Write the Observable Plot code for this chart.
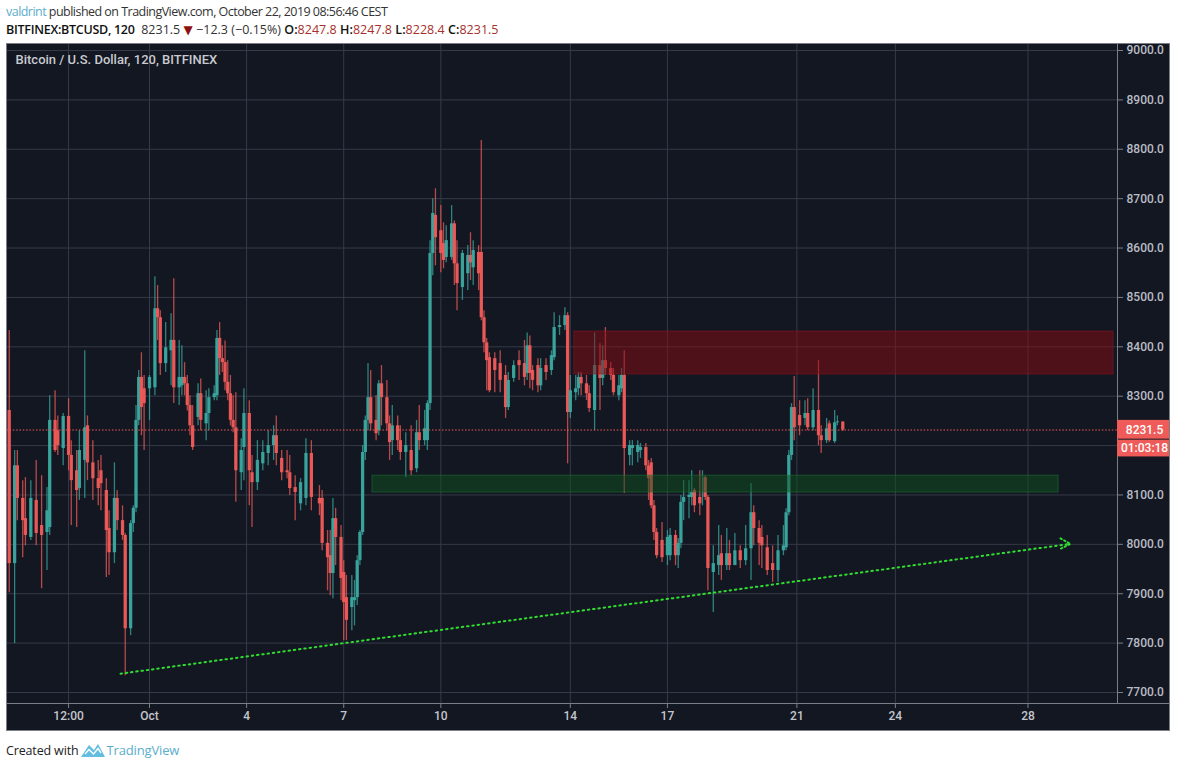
<!DOCTYPE html>
<html>
<head>
<meta charset="utf-8">
<script src="https://cdn.jsdelivr.net/npm/d3@7"></script>
<script src="https://cdn.jsdelivr.net/npm/@observablehq/plot@0.6"></script>
<style>
html,body{margin:0;padding:0;background:#fff;width:1177px;height:768px;overflow:hidden;font-family:"Open Sans",sans-serif}
#head{height:43px;box-sizing:border-box;padding:3px 0 0 6px;font-size:12.5px;line-height:18px;color:#333;white-space:nowrap}
#head .l1{letter-spacing:-.53px;height:18px;overflow:hidden}
#head .l2{letter-spacing:.02px;height:18px;overflow:hidden}
#head b{color:#111;font-weight:600}
#head .name{letter-spacing:-.28px}
#head .u{color:#5aaecb}
#head .v{color:#a8302c}
#head .t{color:#8f1010;font-family:"DejaVu Sans",sans-serif;font-size:12px;line-height:12px;letter-spacing:0}
#chart{margin-left:6px;height:688px;width:1164px}
#chart svg{display:block;outline:1px solid #7b7e87;outline-offset:-1px}
#foot{position:absolute;left:6px;top:742px;font-size:12.5px;line-height:17px;color:#222;letter-spacing:-.15px;white-space:nowrap;display:flex;align-items:center}
#foot svg{margin:0 1px 0 3px}
#foot span{color:#5aaecb;font-size:13px}
</style>
</head>
<body>
<div id="head"><div class="l1"><span class="u">valdrint</span> published on TradingView.com, October 22, 2019 08:56:46 CEST</div>
<div class="l2"><b class="name">BITFINEX:BTCUSD, 120</b>&nbsp; 8231.5 <span class="t">▼</span> −12.3 (−0.15%) <b>O:</b><span class="v">8247.8</span> <b>H:</b><span class="v">8247.8</span> <b>L:</b><span class="v">8228.4</span> <b>C:</b><span class="v">8231.5</span></div></div>
<div id="chart"></div>
<div id="foot">Created with <svg width="24" height="15" viewBox="0 0 24 15"><path d="M0 14 L8 2 L13 7 L17 1 L24 14 Z" fill="#62bde0"/><path d="M4 11 L8 6.5 L12.5 11 L17 5.5 L20 10" fill="none" stroke="#fff" stroke-width="1.4"/></svg><span>TradingView</span></div>
<script>
// 2-hour bar number counted from 1 Oct 2019 00:00 UTC
const barSlot = [
-52,-50,-49,-47,-46,-44,-42,-40,-38,-37,
-35,-34,-32,-30,-29,-27,-26,-24,-23,-21,
-19,-18,-16,-15,-13,-12,-10,-9,-7,-6,
-5,-4,-3,-2,0,2,3,4,6,8,
9,11,12,13,14,15,16,18,19,21,
22,24,25,26,27,28,29,30,31,32,
34,35,37,38,40,42,44,46,47,49,
51,52,54,56,58,60,63,64,66,67,
68,69,71,72,73,75,76,77,78,79,
80,81,82,84,85,86,88,89,90,92,
93,95,97,99,100,102,103,104,105,106,
108,109,110,112,113,114,116,118,119,120,
122,123,124,125,126,128,130,132,133,135,
137,139,140,141,142,144,145,147,149,150,
152,154,155,156,158,159,160,162,163,165,
167,168,169,171,172,174,175,176,178,179,
181,182,184,185,186,187,188,190,192,193,
195,196,197,198,200,201,202,204,205,206,
207,209,211,212,214,215,217,219,221,223,
224,226,227,229,231,233,235,236,237,238,
239,241,243,244,246,248,249,251,252,254,
255,257];
const barOpen = [
8271,7961,8159,8093,8052,8014,8089,8038,8024,8034,
8251,8230,8194,8259,8180,8149,8113,8170,8240,8165,
8133,8149,8109,8032,7983,8093,8048,8018,7829,8042,
8073,8251,8338,8315,8315,8317,8477,8459,8366,8392,
8413,8317,8321,8338,8325,8281,8240,8257,8305,8244,
8265,8297,8301,8417,8376,8368,8328,8305,8251,8236,
8145,8196,8265,8145,8125,8163,8184,8200,8220,8174,
8149,8145,8115,8082,8093,8184,8093,8093,8002,7977,
7941,8052,8014,7943,7892,7872,7886,7892,7967,8024,
8186,8251,8297,8251,8230,8325,8297,8244,8210,8240,
8210,8186,8190,8153,8226,8210,8210,8285,8589,8666,
8635,8609,8581,8581,8649,8568,8520,8548,8585,8560,
8591,8591,8459,8408,8378,8376,8366,8342,8277,8336,
8372,8366,8346,8402,8352,8362,8321,8362,8352,8378,
8439,8443,8463,8267,8307,8315,8338,8325,8305,8271,
8362,8336,8372,8356,8342,8301,8315,8342,8180,8194,
8186,8190,8196,8159,8165,8078,8024,8008,7977,7977,
8018,7977,8002,8085,8095,8095,8109,8095,8135,8135,
8095,7943,7957,7981,7957,7981,7957,7987,7967,7991,
8064,8032,8014,7993,7961,7947,7987,7993,8064,8180,
8277,8261,8255,8265,8236,8271,8220,8210,8244,8208,
8246,8247.8];
const barClose = [
7961,8159,8093,8048,8018,8093,8022,8018,8068,8251,
8190,8200,8259,8180,8129,8109,8190,8236,8165,8133,
8113,8123,8028,7983,8093,8048,8018,7829,8042,8073,
8251,8338,8277,8285,8338,8477,8459,8366,8398,8413,
8317,8338,8338,8325,8281,8240,8196,8305,8251,8265,
8297,8305,8417,8376,8368,8328,8305,8251,8236,8149,
8190,8265,8149,8125,8170,8186,8200,8220,8184,8145,
8145,8113,8105,8125,8184,8095,8082,8002,7973,7941,
8052,8014,7931,7882,7846,7892,7892,7967,8024,8186,
8251,8297,8244,8224,8325,8297,8244,8206,8240,8210,
8186,8200,8149,8226,8210,8234,8285,8589,8670,8621,
8589,8575,8615,8649,8568,8528,8589,8585,8570,8595,
8548,8459,8408,8372,8311,8352,8332,8277,8332,8362,
8362,8338,8402,8346,8332,8321,8356,8348,8382,8439,
8443,8463,8267,8311,8315,8338,8325,8305,8275,8362,
8336,8372,8356,8342,8307,8321,8342,8194,8200,8200,
8200,8196,8159,8133,8078,8024,7977,7973,8014,8018,
7977,8002,8085,8095,8099,8105,8078,8082,8135,8095,
7951,7961,7977,7957,7981,7957,7987,7967,7991,8064,
8032,8002,7997,7947,7947,7987,7997,8064,8180,8277,
8236,8240,8265,8236,8271,8220,8210,8234,8210,8246,
8248,8231.5];
const barHigh = [
8433,8190,8190,8129,8135,8129,8170,8139,8115,8301,
8311,8260,8265,8295,8210,8190,8230,8392,8260,8210,
8170,8180,8133,8068,8165,8109,8078,8022,8048,8078,
8281,8352,8388,8342,8342,8542,8524,8473,8449,8467,
8538,8413,8402,8368,8342,8301,8281,8325,8335,8311,
8315,8321,8433,8449,8402,8412,8372,8342,8301,8307,
8214,8315,8291,8180,8210,8210,8230,8240,8260,8190,
8190,8180,8139,8133,8214,8210,8119,8109,8028,8028,
8093,8073,8038,7967,7937,7937,7927,7977,8028,8200,
8260,8366,8352,8301,8332,8362,8332,8260,8281,8260,
8240,8226,8240,8251,8281,8271,8291,8615,8700,8720,
8686,8651,8645,8686,8655,8615,8595,8605,8631,8615,
8605,8818,8473,8417,8388,8388,8392,8362,8348,8372,
8392,8413,8428,8422,8362,8376,8376,8376,8392,8469,
8463,8479,8469,8342,8342,8348,8348,8342,8321,8428,
8406,8402,8439,8368,8356,8342,8356,8392,8210,8210,
8210,8204,8204,8170,8174,8089,8032,8044,8028,8032,
8028,8012,8099,8129,8129,8149,8113,8149,8149,8139,
8099,7997,8038,8018,8032,8008,8022,7997,8038,8123,
8078,8048,8038,8018,7997,8018,8038,8072,8190,8285,
8340,8291,8291,8295,8315,8372,8240,8255,8250,8271,
8260,8247.8];
const barLow = [
7902,7799,8048,7973,7997,8008,7997,7910,7947,8018,
8186,8180,8159,8149,8038,8034,8089,8093,8129,8089,
8078,8068,7933,7937,7961,8028,8008,7734,7815,8024,
8064,8240,8220,8190,8251,8301,8413,8342,8348,8321,
8285,8281,8301,8301,8270,8220,8190,8240,8230,8210,
8230,8291,8291,8342,8348,8311,8291,8240,8226,8085,
8109,8129,8078,8034,8109,8149,8159,8170,8159,8129,
8133,8099,8048,8068,8078,8068,8058,7987,7906,7896,
7890,7957,7886,7805,7805,7825,7835,7876,7957,8018,
8170,8230,8230,8210,8220,8240,8230,8170,8180,8190,
8170,8135,8139,8145,8190,8200,8190,8271,8544,8564,
8550,8558,8570,8575,8524,8473,8494,8514,8534,8524,
8514,8453,8388,8311,8307,8307,8307,8255,8271,8328,
8332,8321,8332,8315,8311,8307,8311,8332,8342,8372,
8423,8433,8163,8255,8291,8301,8301,8291,8267,8230,
8271,8321,8342,8332,8301,8291,8307,8103,8159,8159,
8165,8174,8149,8089,8072,8008,7971,7963,7957,7967,
7957,7951,7991,8048,8052,8078,8064,8058,8078,8089,
7906,7862,7937,7927,7947,7947,7957,7951,7957,7927,
7997,7957,7951,7937,7923,7923,7977,7987,8058,8170,
8210,8220,8240,8230,8230,8200,8184,8204,8206,8204,
8240,8228.4];

const priceTicks = [7700,7800,7900,8000,8100,8200,8300,8400,8500,8600,8700,8800,8900,9000];
const priceLabelTicks = [7700,7800,7900,8000,8100,8300,8400,8500,8600,8700,8800,8900,9000];
const timeTicks = ["2019-09-28T12:00Z","2019-10-01T00:00Z","2019-10-04T00:00Z","2019-10-07T00:00Z","2019-10-10T00:00Z","2019-10-14T00:00Z","2019-10-17T00:00Z","2019-10-21T00:00Z","2019-10-24T01:00Z","2019-10-28T03:20Z"].map(s=>new Date(s));
const timeLabels = ["12:00","Oct","4","7","10","14","17","21","24","28"];

const zoneStart = ["2019-10-14T03:00Z","2019-10-07T21:20Z"].map(s=>new Date(s));
const zoneEnd = ["2019-10-30T18:45Z","2019-10-29T02:00Z"].map(s=>new Date(s));
const zoneTop = [8431,8139];
const zoneBottom = [8344,8105];
const zoneColor = ["#89090f","#0f511e"];
const zoneEdge = ["#8f1a22","#1f7a33"];

const trendTime = ["2019-09-30T02:30Z","2019-10-29T10:50Z"].map(s=>new Date(s));
const trendPrice = [7738,8001];
const arrowTime = ["2019-10-29T03:25Z","2019-10-29T10:50Z","2019-10-29T03:25Z"].map(s=>new Date(s));
const arrowPrice = [8012,8001,7991];

const lastPrice = 8231.5;
const countdown = "01:03:18";

const t0 = Date.UTC(2019,9,1);
const slotDate = s => new Date(t0 + s*2*3600*1000);
const dayDate = d => new Date(t0 + d*24*3600*1000);
const bars = barSlot.map((s,i)=>({t:slotDate(s),o:barOpen[i],c:barClose[i],h:barHigh[i],l:barLow[i],dir:barClose[i]>=barOpen[i]?"up":"down"}));
const zones = zoneTop.map((_,i)=>({a:zoneStart[i],b:zoneEnd[i],top:zoneTop[i],bot:zoneBottom[i],fill:zoneColor[i],edge:zoneEdge[i]}));
const xEnd = dayDate(29.904), xTagEnd = dayDate(31.6), xTagMid = dayDate(30.74);

const bg="#131722", grid="#363a48", axis="#7b7e87", txt="#b9bcc4", red="#ef5b58", teal="#3aa89f", lime="#2fdc2f";

const chart = Plot.plot({
  width:1164, height:688, marginLeft:0, marginRight:53, marginTop:0, marginBottom:28,
  style:{background:bg,color:txt,fontFamily:"Roboto, 'Liberation Sans', sans-serif",fontSize:"12px"},
  x:{type:"utc",domain:[dayDate(-4.4177),xEnd],axis:null},
  y:{domain:[7677.7,9014.2],axis:null},
  color:{type:"ordinal",domain:["up","down"],range:[teal,red]},
  marks:[
    Plot.ruleY(priceTicks,{stroke:grid,strokeWidth:1,strokeOpacity:1}),
    Plot.ruleX(timeTicks,{stroke:grid,strokeWidth:1,strokeOpacity:1}),
    Plot.ruleX(bars,{x:"t",y1:"l",y2:"h",stroke:"dir",strokeWidth:1.3,strokeOpacity:.75}),
    Plot.ruleX(bars,{x:"t",y1:"o",y2:"c",stroke:"dir",strokeWidth:3.3,strokeOpacity:.95}),
    Plot.rect(zones,{x1:"a",x2:"b",y1:"bot",y2:"top",fill:"fill",fillOpacity:.5,stroke:"edge",strokeWidth:1,strokeOpacity:.55}),
    Plot.ruleY([lastPrice],{stroke:red,strokeWidth:1.2,strokeDasharray:"1.5 1.8",x2:xEnd}),
    Plot.line(trendTime.map((t,i)=>({t,p:trendPrice[i]})),{x:"t",y:"p",stroke:lime,strokeWidth:2,strokeDasharray:"1.5 3.8"}),
    Plot.line(arrowTime.map((t,i)=>({t,p:arrowPrice[i]})),{x:"t",y:"p",stroke:lime,strokeWidth:2,strokeDasharray:"1.5 2.6"}),
    Plot.ruleX([xEnd],{stroke:axis,strokeWidth:1}),
    Plot.ruleY([7677.7],{stroke:axis,strokeWidth:1,x1:dayDate(-4.4177),x2:xTagEnd}),
    Plot.axisY({anchor:"right",ticks:priceLabelTicks,tickSize:5,tickPadding:4,tickFormat:d=>d.toFixed(1),stroke:axis,fill:txt,fontWeight:500,label:null}),
    Plot.axisX({anchor:"bottom",ticks:timeTicks,tickSize:5,tickPadding:3,tickFormat:(d,i)=>timeLabels[i],stroke:axis,fill:"#c4c6cc",fontWeight:500,label:null}),
    Plot.rect([{y1:8213,y2:8251},{y1:8177,y2:8211}],{x1:xEnd,x2:xTagEnd,y1:"y1",y2:"y2",fill:red,clip:false}),
    Plot.text([lastPrice.toFixed(1)],{x:xTagMid,y:lastPrice,text:d=>d,fill:"#fff",fontWeight:500,fontSize:12}),
    Plot.text([countdown],{x:xTagMid,y:8194,text:d=>d,fill:"#fff",fontWeight:500,fontSize:12}),
    Plot.text(["Bitcoin / U.S. Dollar, 120, BITFINEX"],{frameAnchor:"top-left",dx:9,dy:11,text:d=>d,fill:"#c8cad0",fontWeight:500,fontSize:13})
  ]
});
document.getElementById("chart").appendChild(chart);
</script>
</body>
</html>
